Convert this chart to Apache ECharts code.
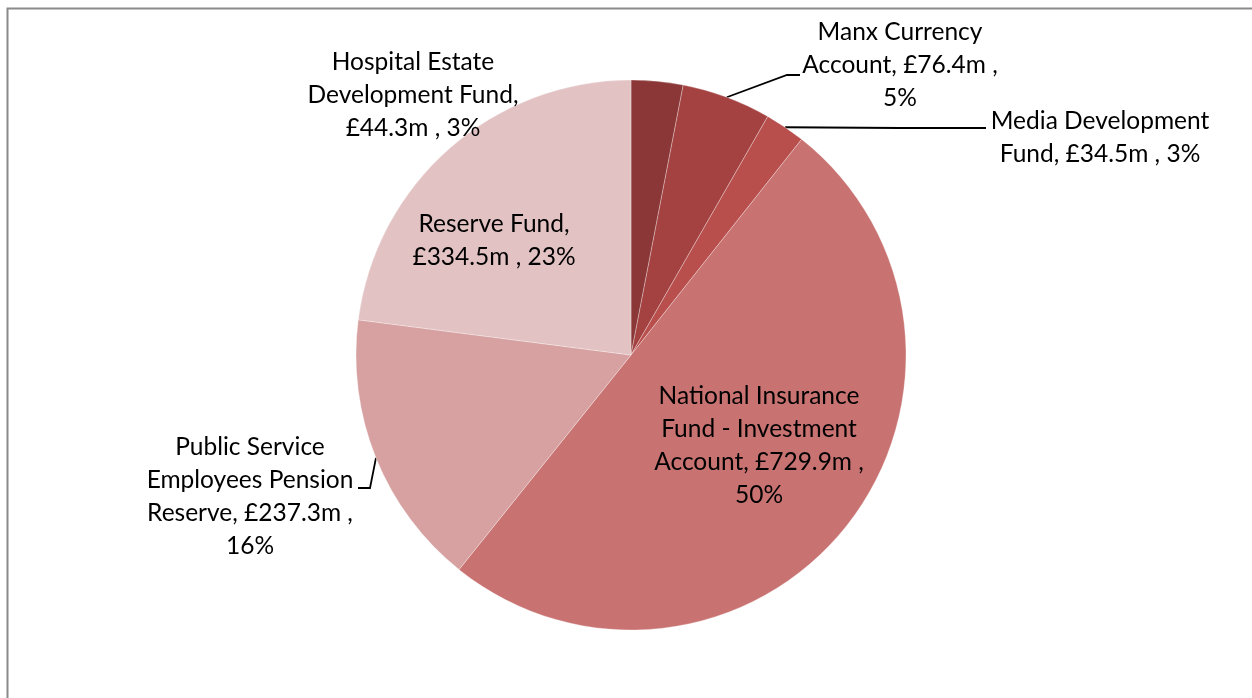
<!DOCTYPE html>
<html>
<head>
<meta charset="utf-8">
<script src="https://cdn.jsdelivr.net/npm/echarts@6/dist/echarts.min.js"></script>
<style>
  html, body { margin: 0; padding: 0; background: #fff; }
  #main { width: 1252px; height: 698px; }
</style>
</head>
<body>
<div id="main"></div>
<script>
// fund names (label text wraps as in the original)
var categories = [
  'Hospital Estate Development Fund',
  'Manx Currency Account',
  'Media Development Fund',
  'National Insurance Fund - Investment Account',
  'Public Service Employees Pension Reserve',
  'Reserve Fund'
];
var wrapped = [
  'Hospital Estate\nDevelopment Fund,\n',
  'Manx Currency\nAccount, ',
  'Media Development\nFund, ',
  'National Insurance\nFund - Investment\nAccount, ',
  'Public Service\nEmployees Pension\nReserve, ',
  'Reserve Fund,\n'
];
// £m
var values = [44.3, 76.4, 34.5, 729.9, 237.3, 334.5];
// percent as printed on the chart
var percents = [3, 5, 3, 50, 16, 23];
var colors = ['#8B3737', '#A34241', '#B84F4D', '#C87371', '#D6A1A0', '#E2C2C3'];

// label placement (pixel centres) and leader line bends
var labelPos = [[413, 95], [900, 65], [1100, 138], [759, 446], [250, 497], [494, 241]];
var linePts = [null, [[787, 75], [800, 75]], [[900, 128], [986, 128]], null, [[370, 488], [358, 488]], null];
// where the value/percent part breaks onto a new line
var tailBreak = [false, true, false, true, true, false];

var myChart = echarts.init(document.getElementById('main'));

var data = categories.map(function (c, i) {
  return {
    name: c,
    value: values[i],
    itemStyle: { color: colors[i] },
    labelLine: { show: linePts[i] != null }
  };
});

myChart.setOption({
  animation: false,
  graphic: [{
    type: 'rect',
    shape: { x: 7.5, y: 8.5, width: 1300, height: 800 },
    style: { fill: null, stroke: '#8a8a8a', lineWidth: 2 },
    silent: true
  }],
  series: [{
    type: 'pie',
    center: [631, 355],
    radius: 275,
    startAngle: 90,
    clockwise: true,
    avoidLabelOverlap: false,
    itemStyle: {
      borderColor: 'rgba(255,255,255,0.5)',
      borderWidth: 0.6
    },
    label: {
      show: true,
      position: 'outside',
      color: '#000',
      fontFamily: 'Lato',
      fontSize: 24.5,
      lineHeight: 33,
      align: 'center',
      formatter: function (p) {
        var i = p.dataIndex;
        return wrapped[i] + '£' + values[i] + 'm ,' + (tailBreak[i] ? '\n' : ' ') + percents[i] + '%';
      }
    },
    labelLine: {
      show: true,
      lineStyle: { color: '#000', width: 1.8 }
    },
    labelLayout: function (params) {
      var i = params.dataIndex;
      var res = {
        x: labelPos[i][0],
        y: labelPos[i][1],
        align: 'center',
        verticalAlign: 'middle'
      };
      if (linePts[i] && params.labelLinePoints) {
        res.labelLinePoints = [params.labelLinePoints[0], linePts[i][0], linePts[i][1]];
      }
      return res;
    },
    data: data
  }]
});
</script>
</body>
</html>
